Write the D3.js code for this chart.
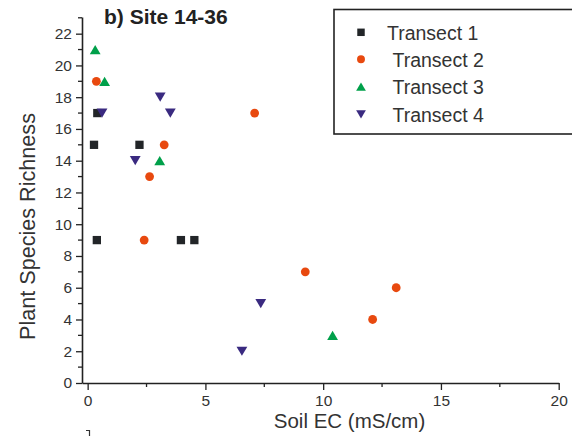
<!DOCTYPE html>
<html>
<head>
<meta charset="utf-8">
<script src="https://cdn.jsdelivr.net/npm/d3@7"></script>
<style>
  html, body { margin: 0; padding: 0; background: #fff; }
  svg { display: block; font-family: "Liberation Sans", Arial, sans-serif; }
</style>
</head>
<body>
<svg id="chart" width="572" height="436"></svg>
<script>
// ---- data ----
const seriesNames = ["Transect 1", "Transect 2", "Transect 3", "Transect 4"];
const transect1EC = [0.27, 0.41, 2.2, 0.39, 3.96, 4.53];
const transect1Rich = [15, 17, 15, 9, 9, 9];
const transect2EC = [0.37, 7.09, 3.25, 2.63, 2.4, 9.24, 12.1, 13.1];
const transect2Rich = [19, 17, 15, 13, 9, 7, 4, 6];
const transect3EC = [0.32, 0.72, 3.06, 10.4];
const transect3Rich = [21, 19, 14, 3];
const transect4EC = [0.61, 3.08, 3.51, 2.02, 6.55, 7.35];
const transect4Rich = [17, 18, 17, 14, 2, 5];
const xTicks = [0, 5, 10, 15, 20];
const xMinorTicks = [2.5, 7.5, 12.5, 17.5];
const yTicks = [0, 2, 4, 6, 8, 10, 12, 14, 16, 18, 20, 22];
const yMinorTicks = [1, 3, 5, 7, 9, 11, 13, 15, 17, 19, 21, 23];
const titleText = "b) Site 14-36";
const xLabel = "Soil EC (mS/cm)";
const yLabel = "Plant Species Richness";

const series = [
  { name: seriesNames[0], x: transect1EC, y: transect1Rich, shape: "square", color: "#222528" },
  { name: seriesNames[1], x: transect2EC, y: transect2Rich, shape: "circle", color: "#e8490f" },
  { name: seriesNames[2], x: transect3EC, y: transect3Rich, shape: "up", color: "#00a04a" },
  { name: seriesNames[3], x: transect4EC, y: transect4Rich, shape: "down", color: "#3a2a80" }
];

const svg = d3.select("#chart");
const axisColor = "#222";
const textColor = "#333";

const x = d3.scaleLinear().domain([-0.24, 20]).range([82, 558.7]);
const y = d3.scaleLinear().domain([0, 23.05]).range([383, 17]);

function markerPath(shape, s) {
  if (shape === "square") return d3.symbol(d3.symbolSquare, s * s)();
  if (shape === "circle") return d3.symbol(d3.symbolCircle, Math.PI * (s / 2) * (s / 2))();
  const h = s * 0.85;
  if (shape === "up") return `M0,${-h / 2}L${s / 2},${h / 2}L${-s / 2},${h / 2}Z`;
  return `M0,${h / 2}L${s / 2},${-h / 2}L${-s / 2},${-h / 2}Z`;
}
const markerSize = { square: 8.3, circle: 8.8, up: 10.8, down: 10.8 };

// ---- axes ----
const xAxis = d3.axisBottom(x).tickValues(xTicks).tickSize(7).tickSizeOuter(0).tickPadding(5).tickFormat(d3.format("d"));
const gx = svg.append("g").attr("transform", "translate(0,383)").call(xAxis);
gx.append("g").selectAll("line").data(xMinorTicks).join("line")
  .attr("x1", d => x(d)).attr("x2", d => x(d)).attr("y1", 0).attr("y2", 4);

const yAxis = d3.axisLeft(y).tickValues(yTicks).tickSize(6).tickSizeOuter(0).tickPadding(4).tickFormat(d3.format("d"));
const gy = svg.append("g").attr("transform", "translate(82,0)").call(yAxis);
gy.append("g").selectAll("line").data(yMinorTicks).join("line")
  .attr("y1", d => y(d)).attr("y2", d => y(d)).attr("x1", 0).attr("x2", -4);

[gx, gy].forEach(g => {
  g.selectAll("path.domain").attr("stroke", axisColor).attr("stroke-width", 1.6);
  g.selectAll("line").attr("stroke", axisColor).attr("stroke-width", 1.3);
  g.selectAll("text").attr("fill", textColor).style("font-size", "15.5px")
    .style("font-family", "'Liberation Sans', Arial, sans-serif");
});

// ---- points ----
series.forEach(s => {
  const pts = s.x.map((v, i) => [v, s.y[i]]);
  svg.append("g").selectAll("path").data(pts).join("path")
    .attr("d", markerPath(s.shape, markerSize[s.shape]))
    .attr("transform", d => `translate(${x(d[0])},${y(d[1])})`)
    .attr("fill", s.color);
});

// ---- labels ----
svg.append("text").attr("x", 104).attr("y", 24)
  .attr("font-size", 21).attr("font-weight", "bold").attr("fill", "#222")
  .text(titleText);

svg.append("text").attr("x", 349.5).attr("y", 427.5).attr("text-anchor", "middle")
  .attr("font-size", 20.5).attr("fill", textColor).text(xLabel);

svg.append("text").attr("transform", "translate(35,226.5) rotate(-90)")
  .attr("text-anchor", "middle").attr("font-size", 21.6).attr("fill", textColor).text(yLabel);

// small artifact mark at bottom
svg.append("path").attr("d", "M86,430.5H89.5V436").attr("fill", "none")
  .attr("stroke", "#333").attr("stroke-width", 1.2);

// ---- legend ----
const legend = svg.append("g");
legend.append("rect").attr("x", 334).attr("y", 9.5).attr("width", 260).attr("height", 124.5)
  .attr("fill", "#fff").attr("stroke", axisColor).attr("stroke-width", 1.6);
const legY = [32.3, 59.3, 86.7, 114.3];
const legTextX = [387, 392.5, 392.5, 392.5];
series.forEach((s, i) => {
  legend.append("path")
    .attr("d", markerPath(s.shape, markerSize[s.shape] * 0.9))
    .attr("transform", `translate(361,${legY[i]})`).attr("fill", s.color);
  legend.append("text").attr("x", legTextX[i]).attr("y", legY[i] + 7.2)
    .attr("font-size", 19.5).attr("fill", textColor).text(s.name);
});
</script>
</body>
</html>
